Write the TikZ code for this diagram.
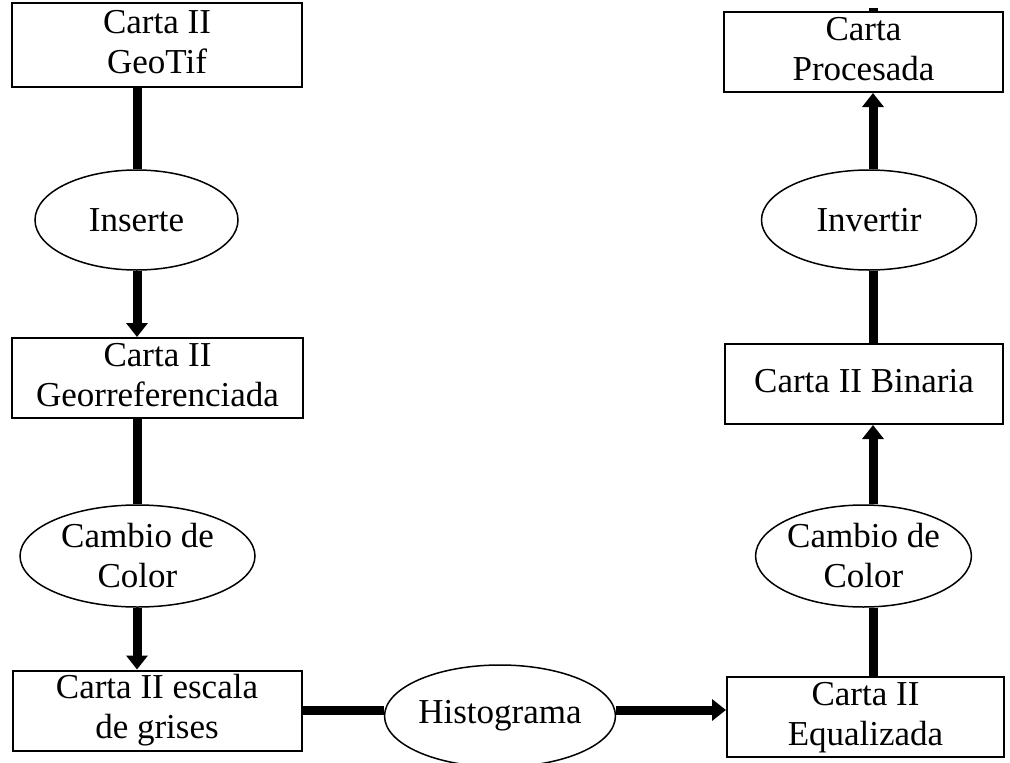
\documentclass[tikz,border=0pt]{standalone}
\usepackage{fontspec}
\setmainfont{Liberation Serif}
\usetikzlibrary{arrows.meta,shapes.geometric}
\begin{document}
\begin{tikzpicture}[x=1pt,y=1pt,
  box/.style={draw,line width=2pt,rectangle,inner sep=0pt,align=center,font=\fontsize{35}{40}\selectfont},
  oval/.style={draw,line width=1.5pt,ellipse,inner sep=0pt,align=center,font=\fontsize{35}{40}\selectfont},
  link/.style={line width=9pt},
  arr/.style={line width=9pt,-{Triangle[width=21pt,length=14pt]}}]
\useasboundingbox (0,0) rectangle (1010,-763);
\coordinate (lc) at (137,0);
\coordinate (rc) at (873,0);
\coordinate (hy) at (0,-710);
\node[box,minimum width=290pt,minimum height=84pt] (b1) at (157,-45) {\strut Carta II\\\strut GeoTif};
\node[box,minimum width=291pt,minimum height=80pt] (b2) at (157.5,-378) {\strut Carta II\\\strut Georreferenciada};
\node[box,minimum width=289pt,minimum height=79pt] (b3) at (157,-710.5) {\strut Carta II escala\\\strut de grises};
\node[box,minimum width=277pt,minimum height=80pt] (b4) at (865.5,-717) {\strut Carta II\\\strut Equalizada};
\node[box,minimum width=278pt,minimum height=80pt] (b5) at (864,-384) {\strut Carta II Binaria};
\node[box,minimum width=279pt,minimum height=80pt] (b6) at (863.5,-52) {\strut Carta\\\strut Procesada};
\node[oval,minimum width=203pt,minimum height=100pt] (e1) at (136.5,-220) {Inserte};
\node[oval,minimum width=235pt,minimum height=102pt] (e2) at (137.5,-556) {Cambio de\\Color};
\node[oval,minimum width=204pt,minimum height=102pt] (e3) at (500,-716) {Histograma};
\node[oval,minimum width=215pt,minimum height=100pt] (e4) at (869,-220) {Invertir};
\node[oval,minimum width=203pt,minimum height=102pt] (e5) at (863.5,-556) {Cambio de\\Color};
\draw[link] (b1.south -| lc) -- (e1.north -| lc);
\draw[arr] (e1.south -| lc) -- (b2.north -| lc);
\draw[link] (b2.south -| lc) -- (e2.north -| lc);
\draw[arr] (e2.south -| lc) -- (b3.north -| lc);
\draw[link] (b3.east |- hy) -- (e3.west |- hy);
\draw[arr] (e3.east |- hy) -- (b4.west |- hy);
\draw[link] (b4.north -| rc) -- (e5.south -| rc);
\draw[arr] (e5.north -| rc) -- (b5.south -| rc);
\draw[link] (b5.north -| rc) -- (e4.south -| rc);
\draw[arr] (e4.north -| rc) -- (b6.south -| rc);
\coordinate (stub) at ([yshift=3pt]b6.north -| rc);
\draw[line width=9pt] (b6.north -| rc) -- (stub);
\end{tikzpicture}
\end{document}
